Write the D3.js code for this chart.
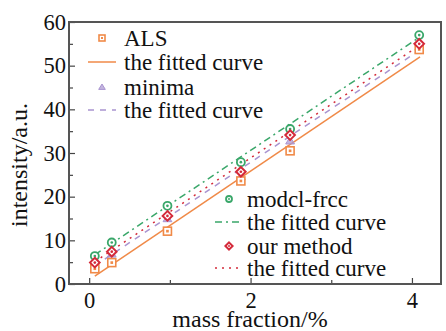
<!DOCTYPE html>
<html lang="en">
<head>
<meta charset="UTF-8" />
<title>intensity vs mass fraction</title>
<script src="https://cdn.jsdelivr.net/npm/d3@7"></script>
<style>
  body { margin: 0; background: #fff; }
  text { font-family: "Liberation Serif", "Times New Roman", serif; fill: #111; }
</style>
</head>
<body>
<script>
  const width = 446, height = 331;

  // data
  const massFraction = [0.07, 0.28, 0.97, 1.88, 2.49, 4.09];
  const als       = [3.5, 4.9, 12.1, 23.6, 30.5, 53.7];
  const minima    = [4.5, 6.9, 15.0, 24.6, 32.8, 54.3];
  const modclFrcc = [6.4, 9.5, 17.9, 27.9, 35.5, 57.0];
  const ourMethod = [4.9, 7.4, 15.6, 25.7, 34.1, 55.0];

  // fitted lines: endpoints
  const fitX = [0.07, 4.1];
  const fitAls   = [1.8, 52.0];
  const fitMin   = [4.2, 53.6];
  const fitModcl = [6.7, 56.6];
  const fitOur   = [5.1, 54.7];

  const xTicks = [0, 2, 4];
  const yTicks = [0, 10, 20, 30, 40, 50, 60];

  const m = { left: 69, right: 441, top: 22, bottom: 284 };

  const x = d3.scaleLinear().domain([-0.25, 4.36]).range([m.left, m.right]);
  const y = d3.scaleLinear().domain([0, 60]).range([m.bottom, m.top]);

  const svg = d3.select('body').append('svg')
    .attr('width', width).attr('height', height);

  const series = [
    { name: 'ALS', vals: als, fit: fitAls, color: '#f08a48', dash: null, marker: 'square' },
    { name: 'minima', vals: minima, fit: fitMin, color: '#a994d0', dash: '6,6', marker: 'triangle' },
    { name: 'modcl-frcc', vals: modclFrcc, fit: fitModcl, color: '#3aa76a', dash: '7,4,2,4', marker: 'circle' },
    { name: 'our method', vals: ourMethod, fit: fitOur, color: '#d42a3a', dash: '2,5', marker: 'diamond' }
  ];

  // axes with inward ticks
  const g = svg.append('g');
  const xAxis = d3.axisBottom(x).tickValues(xTicks).tickFormat(d3.format('d'))
    .tickSizeInner(-6).tickSizeOuter(0).tickPadding(8);
  const yAxis = d3.axisLeft(y).tickValues(yTicks).tickFormat(d3.format('d'))
    .tickSizeInner(-6).tickSizeOuter(0).tickPadding(3);
  const xMinor = d3.axisBottom(x).tickValues([1, 3]).tickSize(-4).tickFormat('');
  const yMinor = d3.axisLeft(y).tickValues([5, 15, 25, 35, 45, 55]).tickSize(-4).tickFormat('');

  [[xAxis, 'x'], [xMinor, 'x'], [yAxis, 'y'], [yMinor, 'y']].forEach(([ax, k]) => {
    const a = g.append('g')
      .attr('transform', k === 'x' ? `translate(0,${m.bottom})` : `translate(${m.left},0)`)
      .call(ax);
    a.select('.domain').remove();
    a.selectAll('line').attr('stroke', '#444').attr('stroke-width', 1.2);
    a.selectAll('text').style('font-family', '"Liberation Serif", serif').style('font-size', '22.5px').attr('fill', '#111');
  });

  // frame
  svg.append('rect')
    .attr('x', m.left).attr('y', m.top)
    .attr('width', m.right - m.left).attr('height', m.bottom - m.top)
    .attr('fill', 'none').attr('stroke', '#555').attr('stroke-width', 2);

  // fitted lines
  const line = d3.line().x(d => x(d[0])).y(d => y(d[1]));
  series.forEach(s => {
    svg.append('path')
      .datum(fitX.map((v, i) => [v, s.fit[i]]))
      .attr('d', line)
      .attr('fill', 'none')
      .attr('stroke', s.color)
      .attr('stroke-width', 1.5)
      .attr('stroke-dasharray', s.dash);
  });

  function drawMarker(sel, type, color, size) {
    const r = size;
    if (type === 'square') {
      sel.append('rect').attr('x', -r).attr('y', -r).attr('width', 2 * r).attr('height', 2 * r)
        .attr('fill', '#fff').attr('stroke', color).attr('stroke-width', 1.6);
      sel.append('rect').attr('x', -r / 3).attr('y', -r / 3).attr('width', 2 * r / 3).attr('height', 2 * r / 3)
        .attr('fill', color);
    } else if (type === 'circle') {
      sel.append('circle').attr('r', r).attr('fill', '#fff').attr('stroke', color).attr('stroke-width', 1.8);
      sel.append('circle').attr('r', r / 3).attr('fill', color);
    } else if (type === 'diamond') {
      sel.append('path').attr('d', `M0,${-r * 1.2}L${r * 1.2},0L0,${r * 1.2}L${-r * 1.2},0Z`)
        .attr('fill', '#fff').attr('stroke', color).attr('stroke-width', 2);
      sel.append('circle').attr('r', r / 3).attr('fill', color);
    } else {
      sel.append('path').attr('d', `M0,${-r}L${r * 1.1},${r * 0.8}L${-r * 1.1},${r * 0.8}Z`)
        .attr('fill', color).attr('fill-opacity', 0.7).attr('stroke', color).attr('stroke-width', 1);
    }
  }

  // points: minima first so diamonds sit on top
  [series[1], series[0], series[2], series[3]].forEach(s => {
    svg.append('g').selectAll('g')
      .data(massFraction.map((v, i) => [v, s.vals[i]]))
      .join('g')
      .attr('transform', d => `translate(${x(d[0])},${y(d[1])})`)
      .each(function () { drawMarker(d3.select(this), s.marker, s.color, 4); });
  });

  // legends
  const legends = [
    { x0: 88, x1: 116, mx: 102, tx: 124, ys: [38, 62, 87, 110], items: [series[0], series[1]] },
    { x0: 215, x1: 243, mx: 229, tx: 247, ys: [199, 222, 246, 268], items: [series[2], series[3]] }
  ];
  legends.forEach(L => {
    L.items.forEach((s, i) => {
      const ym = L.ys[i * 2], yl = L.ys[i * 2 + 1];
      const mg = svg.append('g').attr('transform', `translate(${L.mx},${ym})`);
      drawMarker(mg, s.marker, s.color, 3);
      svg.append('text').attr('x', L.tx).attr('y', ym).attr('dy', '0.35em')
        .style('font-size', '23px').text(s.name);
      svg.append('line').attr('x1', L.x0).attr('x2', L.x1).attr('y1', yl).attr('y2', yl)
        .attr('stroke', s.color).attr('stroke-width', 1.5).attr('stroke-dasharray', s.dash);
      svg.append('text').attr('x', L.tx).attr('y', yl).attr('dy', '0.35em')
        .style('font-size', '23px').text('the fitted curve');
    });
  });

  // axis titles
  svg.append('text')
    .attr('x', 250).attr('y', 327)
    .attr('text-anchor', 'middle')
    .style('font-size', '24px')
    .text('mass fraction/%');

  svg.append('text')
    .attr('transform', 'translate(27,165) rotate(-90)')
    .attr('text-anchor', 'middle')
    .style('font-size', '24px')
    .text('intensity/a.u.');
</script>
</body>
</html>
